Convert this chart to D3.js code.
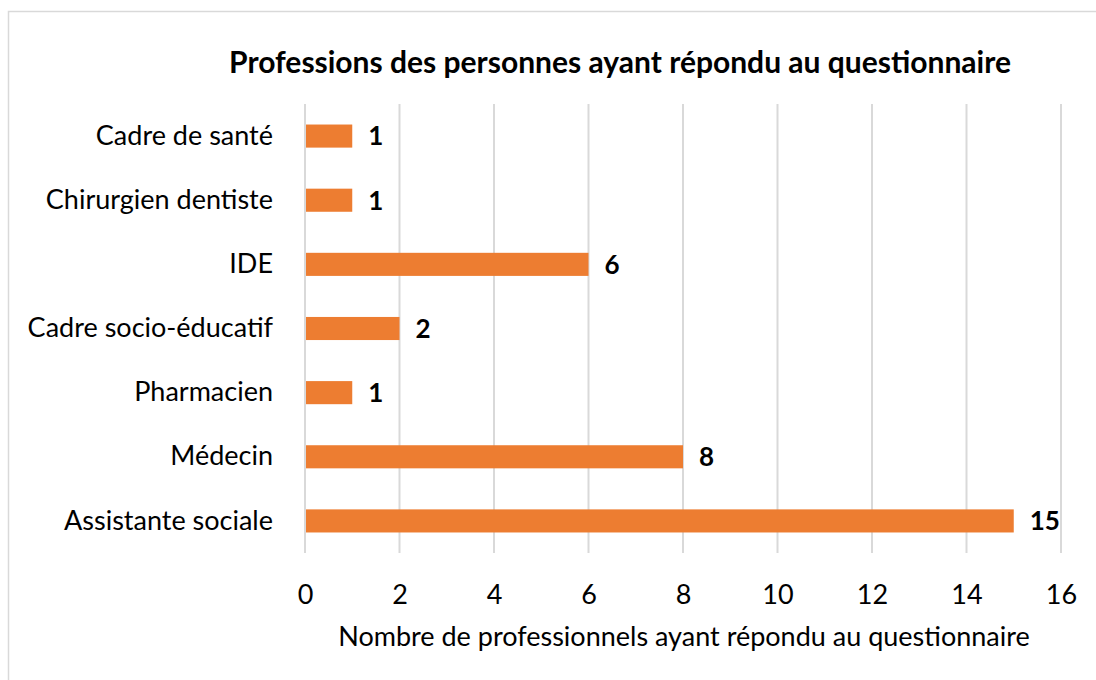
<!DOCTYPE html>
<html>
<head>
<meta charset="utf-8">
<script src="https://cdn.jsdelivr.net/npm/d3@7"></script>
<style>
  body { margin: 0; background: #fff; }
  svg text { font-family: Lato, "Open Sans", sans-serif; fill: #000; }
</style>
</head>
<body>
<svg id="chart" width="1096" height="680"></svg>
<script>
// data
const professions = ['Cadre de santé', 'Chirurgien dentiste', 'IDE', 'Cadre socio-éducatif', 'Pharmacien', 'Médecin', 'Assistante sociale'];
const counts = [1, 1, 6, 2, 1, 8, 15];
const xTicks = [0, 2, 4, 6, 8, 10, 12, 14, 16];

const title = 'Professions des personnes ayant répondu au questionnaire';
const xTitle = 'Nombre de professionnels ayant répondu au questionnaire';

const svg = d3.select('#chart');
const plotLeft = 305, plotRight = 1061, plotTop = 104, plotBottom = 553;
const labelSize = 27;

// chart frame
svg.append('rect')
    .attr('x', 8.5).attr('y', 11.5)
    .attr('width', 1100).attr('height', 700)
    .attr('fill', 'none')
    .attr('stroke', '#d9d9d9')
    .attr('stroke-width', 1.5);

let x = d3.scaleLinear().domain([0, 16]).range([plotLeft, plotRight]);
let y = d3.scaleBand().domain(professions).range([plotTop, plotBottom]).paddingInner(0.64).paddingOuter(0.32);

// gridlines
svg.append('g')
    .selectAll('line')
    .data(xTicks)
    .join('line')
    .attr('x1', d => x(d)).attr('x2', d => x(d))
    .attr('y1', plotTop).attr('y2', plotBottom)
    .attr('stroke', '#d9d9d9')
    .attr('stroke-width', 2);

// bars
svg.append('g')
    .selectAll('rect')
    .data(professions)
    .join('rect')
    .attr('x', x(0) + 1)
    .attr('y', d => y(d))
    .attr('width', (d, i) => x(counts[i]) - x(0) - 1)
    .attr('height', y.bandwidth())
    .attr('fill', '#ed7d31');

// value labels
svg.append('g')
    .selectAll('text')
    .data(professions)
    .join('text')
    .attr('x', (d, i) => x(counts[i]) + 16)
    .attr('y', d => y(d) + y.bandwidth() / 2)
    .attr('dy', '0.36em')
    .attr('font-size', 26)
    .attr('font-weight', 'bold')
    .text((d, i) => counts[i]);

// category labels
let yAxis = svg.append('g')
    .attr('transform', `translate(${plotLeft},0)`)
    .call(d3.axisLeft(y).tickSize(0).tickPadding(32));
yAxis.select('.domain').remove();
yAxis.selectAll('text')
    .attr('font-size', labelSize)
    .style('font-family', 'Lato, "Open Sans", sans-serif');

// x tick labels
let xAxis = svg.append('g')
    .attr('transform', `translate(0,${plotBottom})`)
    .call(d3.axisBottom(x).tickValues(xTicks).tickSize(0).tickPadding(32));
xAxis.select('.domain').remove();
xAxis.selectAll('text')
    .attr('font-size', labelSize)
    .style('font-family', 'Lato, "Open Sans", sans-serif');

// titles
svg.append('text')
    .attr('x', 620).attr('y', 62)
    .attr('dy', '0.35em')
    .attr('text-anchor', 'middle')
    .attr('font-size', 30)
    .attr('font-weight', 'bold')
    .text(title);

svg.append('text')
    .attr('x', 684).attr('y', 637)
    .attr('dy', '0.35em')
    .attr('text-anchor', 'middle')
    .attr('font-size', labelSize)
    .text(xTitle);
</script>
</body>
</html>
